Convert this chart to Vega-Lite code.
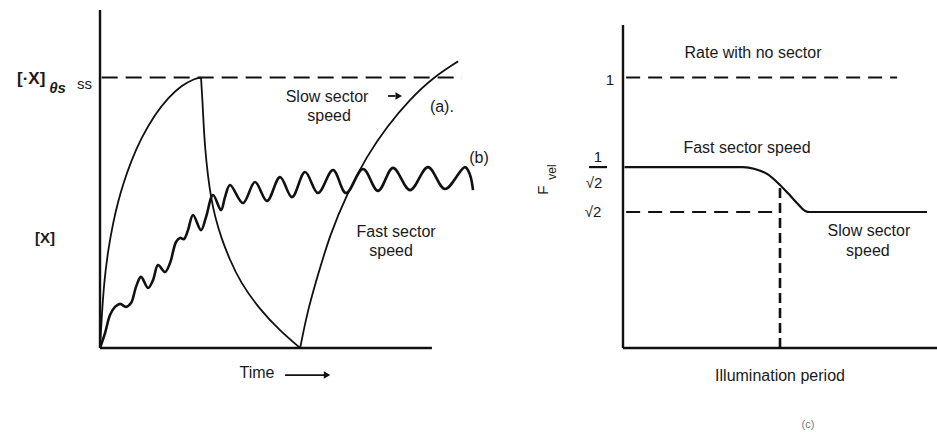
{
  "$schema": "https://vega.github.io/schema/vega-lite/v6.json",
  "padding": 0,
  "background": "white",
  "spacing": 0,
  "bounds": "flush",
  "config": {"view": {"stroke": null}, "text": {"font": "Liberation Sans", "color": "#1a1a1a", "baseline": "middle"}},
  "hconcat": [
    {
      "width": 500,
      "height": 432,
      "encoding": {
        "x": {"field": "x", "type": "quantitative", "scale": {"domain": [-3.013, 12.051], "nice": false, "zero": false}, "axis": null},
        "y": {"field": "y", "type": "quantitative", "scale": {"domain": [-0.3107, 1.287], "nice": false, "zero": false}, "axis": null}
      },
      "layer": [
        {
          "data": {"values": [{"x": 0, "y": 0, "x2": 0, "y2": 1.25}, {"x": 0, "y": 0, "x2": 10.0, "y2": 0}]},
          "mark": {"type": "rule", "strokeWidth": 2.4, "color": "#111"},
          "encoding": {"x2": {"field": "x2"}, "y2": {"field": "y2"}}
        },
        {
          "data": {"values": [{"x": 0.05, "y": 1.0, "x2": 10.9, "y2": 1.0}]},
          "mark": {"type": "rule", "strokeWidth": 2, "color": "#111", "strokeDash": [16, 8]},
          "encoding": {"x2": {"field": "x2"}, "y2": {"field": "y2"}}
        },
        {
          "data": {"values": [
            {"seg": "rise", "x": 0, "y": 0}, {"seg": "rise", "x": 0.05, "y": 0.11}, {"seg": "rise", "x": 0.12, "y": 0.24}, {"seg": "rise", "x": 0.241, "y": 0.36},
            {"seg": "rise", "x": 0.392, "y": 0.462}, {"seg": "rise", "x": 0.542, "y": 0.54}, {"seg": "rise", "x": 0.693, "y": 0.605},
            {"seg": "rise", "x": 0.934, "y": 0.69}, {"seg": "rise", "x": 1.235, "y": 0.775}, {"seg": "rise", "x": 1.657, "y": 0.865},
            {"seg": "rise", "x": 2.049, "y": 0.925}, {"seg": "rise", "x": 2.441, "y": 0.97}, {"seg": "rise", "x": 2.862, "y": 0.997},
            {"seg": "rise", "x": 3.043, "y": 1.0},
            {"seg": "drop", "x": 3.043, "y": 1.0}, {"seg": "drop", "x": 3.08, "y": 0.93}, {"seg": "drop", "x": 3.12, "y": 0.83}, {"seg": "drop", "x": 3.164, "y": 0.74},
            {"seg": "drop", "x": 3.254, "y": 0.632}, {"seg": "drop", "x": 3.344, "y": 0.558}, {"seg": "drop", "x": 3.465, "y": 0.484},
            {"seg": "drop", "x": 3.676, "y": 0.399}, {"seg": "drop", "x": 3.9, "y": 0.33}, {"seg": "drop", "x": 4.218, "y": 0.245},
            {"seg": "drop", "x": 4.821, "y": 0.141}, {"seg": "drop", "x": 5.423, "y": 0.064}, {"seg": "drop", "x": 6.03, "y": 0},
            {"seg": "rise2", "x": 6.03, "y": 0}, {"seg": "rise2", "x": 6.24, "y": 0.13}, {"seg": "rise2", "x": 6.54, "y": 0.26},
            {"seg": "rise2", "x": 6.93, "y": 0.42}, {"seg": "rise2", "x": 7.44, "y": 0.57}, {"seg": "rise2", "x": 8.04, "y": 0.71},
            {"seg": "rise2", "x": 8.65, "y": 0.82}, {"seg": "rise2", "x": 9.34, "y": 0.92}, {"seg": "rise2", "x": 10.03, "y": 1.0},
            {"seg": "rise2", "x": 10.79, "y": 1.06}
          ]},
          "mark": {"type": "line", "interpolate": "basis", "strokeWidth": 1.8, "color": "#111"},
          "encoding": {"detail": {"field": "seg", "type": "nominal"}}
        },
        {
          "data": {"values": [
            {"x": 0, "y": 0}, {"x": 0.151, "y": 0.055}, {"x": 0.301, "y": 0.122}, {"x": 0.452, "y": 0.152}, {"x": 0.603, "y": 0.163},
            {"x": 0.783, "y": 0.152}, {"x": 0.934, "y": 0.166}, {"x": 1.085, "y": 0.226}, {"x": 1.235, "y": 0.263}, {"x": 1.446, "y": 0.222},
            {"x": 1.597, "y": 0.251}, {"x": 1.748, "y": 0.307}, {"x": 1.958, "y": 0.281}, {"x": 2.109, "y": 0.314}, {"x": 2.29, "y": 0.392},
            {"x": 2.41, "y": 0.407}, {"x": 2.531, "y": 0.403}, {"x": 2.651, "y": 0.436}, {"x": 2.802, "y": 0.492}, {"x": 3.043, "y": 0.436},
            {"x": 3.194, "y": 0.484}, {"x": 3.405, "y": 0.566}, {"x": 3.646, "y": 0.51}, {"x": 3.766, "y": 0.558}, {"x": 3.917, "y": 0.603},
            {"x": 4.308, "y": 0.536}, {"x": 4.67, "y": 0.614}, {"x": 5.032, "y": 0.544}, {"x": 5.423, "y": 0.632},
            {"x": 5.785, "y": 0.558}, {"x": 6.177, "y": 0.651}, {"x": 6.568, "y": 0.573}, {"x": 7.02, "y": 0.658}, {"x": 7.412, "y": 0.573},
            {"x": 7.924, "y": 0.662}, {"x": 8.376, "y": 0.581}, {"x": 8.828, "y": 0.666}, {"x": 9.34, "y": 0.584}, {"x": 9.882, "y": 0.669},
            {"x": 10.395, "y": 0.588}, {"x": 10.997, "y": 0.669}, {"x": 11.148, "y": 0.64}, {"x": 11.238, "y": 0.584}
          ]},
          "mark": {"type": "line", "interpolate": "catmull-rom", "strokeWidth": 2.6, "color": "#111"}
        },
        {
          "data": {"values": [{"x": 5.574, "y": -0.1, "x2": 6.75, "y2": -0.1}, {"x": 8.68, "y": 0.932, "x2": 8.9, "y2": 0.932}]},
          "mark": {"type": "rule", "strokeWidth": 1.8, "color": "#111"},
          "encoding": {"x2": {"field": "x2"}, "y2": {"field": "y2"}}
        },
        {
          "data": {"values": [{"x": 6.84, "y": -0.1}, {"x": 9.0, "y": 0.932}]},
          "mark": {"type": "point", "shape": "triangle-right", "filled": true, "size": 55, "color": "#111", "opacity": 1}
        },
        {
          "data": {"values": [
            {"x": 6.84, "y": 0.928, "label": "Slow sector"}, {"x": 6.9, "y": 0.858, "label": "speed"},
            {"x": 8.92, "y": 0.429, "label": "Fast sector"}, {"x": 8.77, "y": 0.359, "label": "speed"},
            {"x": 4.73, "y": -0.0925, "label": "Time"}, {"x": 11.42, "y": 0.703, "label": "(b)"}, {"x": 10.3, "y": 0.891, "label": "(a)."}
          ]},
          "mark": {"type": "text", "fontSize": 16, "align": "center"},
          "encoding": {"text": {"field": "label"}}
        },
        {
          "data": {"values": [{"x": -2.5, "y": 0.995, "label": "[·X]"}]},
          "mark": {"type": "text", "fontSize": 17, "fontWeight": "bold", "align": "left"},
          "encoding": {"text": {"field": "label"}}
        },
        {
          "data": {"values": [{"x": -1.53, "y": 0.962, "label": "θs"}]},
          "mark": {"type": "text", "fontSize": 15, "fontWeight": "bold", "fontStyle": "italic", "align": "left"},
          "encoding": {"text": {"field": "label"}}
        },
        {
          "data": {"values": [{"x": -0.693, "y": 0.976, "label": "ss"}]},
          "mark": {"type": "text", "fontSize": 15, "align": "left"},
          "encoding": {"text": {"field": "label"}}
        },
        {
          "data": {"values": [{"x": -1.657, "y": 0.407, "label": "[X]"}]},
          "mark": {"type": "text", "fontSize": 15, "fontWeight": "bold", "align": "center"},
          "encoding": {"text": {"field": "label"}}
        }
      ]
    },
    {
      "width": 437,
      "height": 432,
      "encoding": {
        "x": {"field": "x", "type": "quantitative", "scale": {"domain": [-3.917, 10.0], "nice": false, "zero": false}, "axis": null},
        "y": {"field": "y", "type": "quantitative", "scale": {"domain": [-0.3107, 1.287], "nice": false, "zero": false}, "axis": null}
      },
      "layer": [
        {
          "data": {"values": [{"x": 0, "y": 0, "x2": 0, "y2": 1.195}, {"x": 0, "y": 0, "x2": 10.0, "y2": 0}]},
          "mark": {"type": "rule", "strokeWidth": 2.4, "color": "#111"},
          "encoding": {"x2": {"field": "x2"}, "y2": {"field": "y2"}}
        },
        {
          "data": {"values": [{"x": 0.1, "y": 1.0, "x2": 8.73, "y2": 1.0}, {"x": 0.1, "y": 0.503, "x2": 5.0, "y2": 0.503}]},
          "mark": {"type": "rule", "strokeWidth": 2, "color": "#111", "strokeDash": [14, 8]},
          "encoding": {"x2": {"field": "x2"}, "y2": {"field": "y2"}}
        },
        {
          "data": {"values": [{"x": 5.0, "y": 0, "x2": 5.0, "y2": 0.595}]},
          "mark": {"type": "rule", "strokeWidth": 2.6, "color": "#111", "strokeDash": [10, 5]},
          "encoding": {"x2": {"field": "x2"}, "y2": {"field": "y2"}}
        },
        {
          "data": {"values": [
            {"x": 0.05, "y": 0.669}, {"x": 3.82, "y": 0.669}, {"x": 4.2, "y": 0.662}, {"x": 4.6, "y": 0.643}, {"x": 5.0, "y": 0.603},
            {"x": 5.25, "y": 0.573}, {"x": 5.54, "y": 0.536}, {"x": 5.8, "y": 0.507}, {"x": 5.95, "y": 0.503}, {"x": 9.68, "y": 0.503}
          ]},
          "mark": {"type": "line", "interpolate": "monotone", "strokeWidth": 2.2, "color": "#111"}
        },
        {
          "data": {"values": [{"x": -1.083, "y": 0.669, "x2": -0.51, "y2": 0.669}]},
          "mark": {"type": "rule", "strokeWidth": 2.2, "color": "#111"},
          "encoding": {"x2": {"field": "x2"}, "y2": {"field": "y2"}}
        },
        {
          "data": {"values": [
            {"x": 4.14, "y": 1.091, "label": "Rate with no sector"}, {"x": 3.95, "y": 0.74, "label": "Fast sector speed"},
            {"x": 7.83, "y": 0.433, "label": "Slow sector"}, {"x": 7.8, "y": 0.359, "label": "speed"},
            {"x": 5.0, "y": -0.104, "label": "Illumination period"}
          ]},
          "mark": {"type": "text", "fontSize": 16, "align": "center"},
          "encoding": {"text": {"field": "label"}}
        },
        {
          "data": {"values": [
            {"x": -0.414, "y": 0.991, "label": "1"}, {"x": -0.796, "y": 0.706, "label": "1"},
            {"x": -0.924, "y": 0.61, "label": "√2"}, {"x": -0.955, "y": 0.503, "label": "√2"}
          ]},
          "mark": {"type": "text", "fontSize": 15, "align": "center"},
          "encoding": {"text": {"field": "label"}}
        },
        {
          "data": {"values": [{"x": -2.548, "y": 0.584, "label": "F"}]},
          "mark": {"type": "text", "fontSize": 15, "align": "center", "angle": 270},
          "encoding": {"text": {"field": "label"}}
        },
        {
          "data": {"values": [{"x": -2.261, "y": 0.651, "label": "vel"}]},
          "mark": {"type": "text", "fontSize": 12, "align": "center", "angle": 270},
          "encoding": {"text": {"field": "label"}}
        },
        {
          "data": {"values": [{"x": 5.89, "y": -0.285, "label": "(c)"}]},
          "mark": {"type": "text", "fontSize": 11, "align": "center", "color": "#777"},
          "encoding": {"text": {"field": "label"}}
        }
      ]
    }
  ]
}
